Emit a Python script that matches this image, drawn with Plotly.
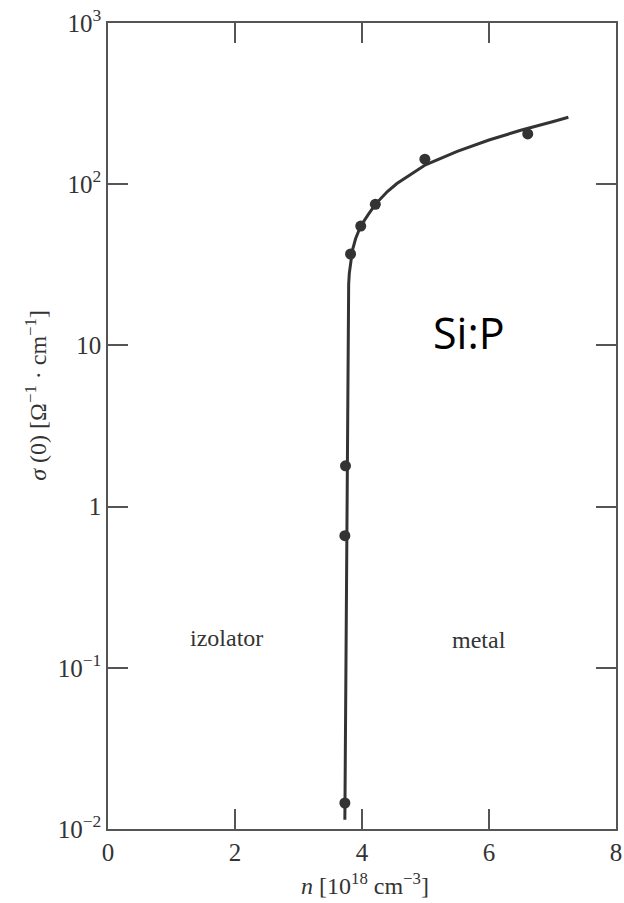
import plotly.graph_objects as go

# Fitted curve
curve_n = [3.73, 3.74, 3.75, 3.76, 3.77, 3.78, 3.79, 3.80, 3.82, 3.85, 3.90, 3.98, 4.10, 4.21,
           4.40, 4.55, 5.00, 5.50, 6.00, 6.50, 7.00, 7.25]
curve_sigma = [0.0114, 0.05, 0.3, 1.5, 7, 18, 24, 28, 33, 39, 46, 55, 65, 75,
               90, 101, 132, 160, 188, 216, 244, 260]

# Measured points
pts_n = [3.73, 3.73, 3.74, 3.82, 3.98, 4.21, 4.99, 6.61]
pts_sigma = [0.0145, 0.66, 1.79, 36.9, 55, 75, 143, 205]

x_tickvals = [0, 2, 4, 6, 8]
x_ticktext = ["0", "2", "4", "6", "8"]
y_tickvals = [0.01, 0.1, 1, 10, 100, 1000]
y_ticktext = ["10<sup>−2</sup>", "10<sup>−1</sup>", "1", "10", "10<sup>2</sup>", "10<sup>3</sup>"]

INK = "#333333"
SERIF = "Liberation Serif"

fig = go.Figure()
fig.add_trace(go.Scatter(x=curve_n, y=curve_sigma, mode="lines",
                         line=dict(color=INK, width=3),
                         showlegend=False, hoverinfo="skip"))
fig.add_trace(go.Scatter(x=pts_n, y=pts_sigma, mode="markers",
                         marker=dict(color=INK, size=11),
                         showlegend=False))

axis_common = dict(showline=True, linecolor="#555555", linewidth=1.5, mirror="ticks",
                   ticks="inside", ticklen=20, tickwidth=1.5, tickcolor="#555555",
                   showgrid=False, zeroline=False, automargin=False,
                   ticklabeloverflow="allow",
                   tickfont=dict(family=SERIF, size=25, color=INK))

fig.update_xaxes(range=[0, 8], tickvals=x_tickvals, ticktext=x_ticktext, **axis_common)
fig.update_yaxes(type="log", range=[-2, 3], tickvals=y_tickvals, ticktext=y_ticktext, **axis_common)

fig.add_annotation(x=1.87, y=-0.815, xref="x", yref="y", text="izolator", showarrow=False,
                   font=dict(family=SERIF, size=24, color=INK))
fig.add_annotation(x=5.85, y=-0.83, xref="x", yref="y", text="metal", showarrow=False,
                   font=dict(family=SERIF, size=24, color=INK))
fig.add_annotation(x=5.68, y=1.077, xref="x", yref="y", text="Si:P", showarrow=False,
                   font=dict(family="Open Sans", size=43, color="#000000"))

fig.add_annotation(x=-0.141, y=0.538, xref="paper", yref="paper", textangle=-90,
                   text="<i>σ</i> (0) [Ω<sup>−1</sup> · cm<sup>−1</sup>]", showarrow=False,
                   xanchor="center", yanchor="middle",
                   font=dict(family=SERIF, size=24, color=INK))
fig.add_annotation(x=0.505, y=-0.068, xref="paper", yref="paper",
                   text="<i>n</i> [10<sup>18</sup> cm<sup>−3</sup>]", showarrow=False,
                   xanchor="center", yanchor="middle",
                   font=dict(family=SERIF, size=24, color=INK))

fig.update_layout(width=624, height=903, margin=dict(l=108, r=8, t=23, b=74),
                  plot_bgcolor="white", paper_bgcolor="white")

fig.write_html("out.html", config={"displayModeBar": False},
               post_script="document.body.style.margin='0px';document.body.style.padding='0px';")
